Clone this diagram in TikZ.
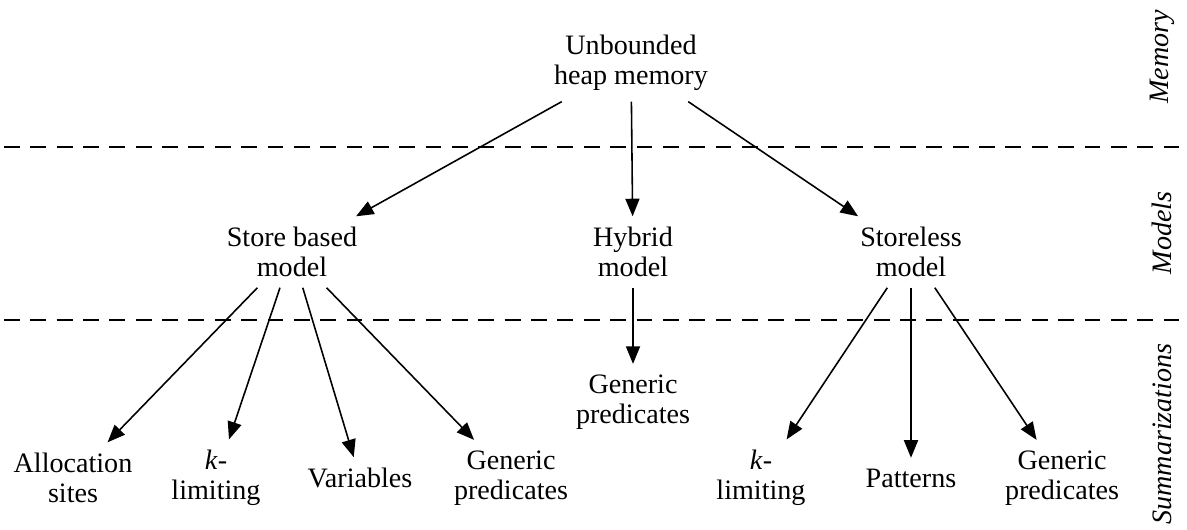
\documentclass[tikz,border=0pt]{standalone}
\usepackage{fontspec}
\setmainfont{Liberation Serif}
\usetikzlibrary{arrows.meta}

\tikzset{
  box/.style={align=center, inner sep=6pt, font=\fontsize{16}{17}\selectfont},
  side/.style={rotate=90, font=\fontsize{16}{17}\selectfont\itshape},
  link/.style={-{Triangle[length=10pt, width=8pt]}, line width=0.9pt},
  layer/.style={dash pattern=on 9pt off 6pt, line width=1.1pt}
}

\begin{document}
\begin{tikzpicture}[x=0.02cm, y=-0.02cm]%
  \useasboundingbox (0, 0) rectangle (1187, 529);
  % layers
  \draw[layer] (4, 147) -- (1180, 147);
  \draw[layer] (4, 320) -- (1180, 320);
  \node[side] (memory) at (1162, 57) {Memory};
  \node[side] (models) at (1162, 233) {Models};
  \node[side] (summ) at (1162, 434) {Summarizations};
  % memory and models
  \node[box] (heap) at (631, 63) {Unbounded\\heap memory};
  \node[box] (store) at (292, 252) {Store based\\model};
  \node[box] (hybrid) at (633, 252) {Hybrid\\model};
  \node[box] (storeless) at (911, 252) {Storeless\\model};
  \draw[link] (heap) -- (store);
  \draw[link] (heap) -- (hybrid);
  \draw[link] (heap) -- (storeless);
  % summarizations
  \node[box] (alloc) at (73, 478) {Allocation\\sites};
  \node[box] (klim) at (216, 478) {\textit{k}-\\limiting};
  \node[box] (vars) at (360, 478) {Variables};
  \node[box] (gen) at (511, 478) {Generic\\predicates};
  \node[box] (hybgen) at (633, 402) {Generic\\predicates};
  \node[box] (klimr) at (761, 478) {\textit{k}-\\limiting};
  \node[box] (pat) at (911, 478) {Patterns};
  \node[box] (genr) at (1062, 478) {Generic\\predicates};
  \foreach \t in {alloc, klim, vars, gen} {
    \draw[link] (store) -- (\t);
  }
  \draw[link] (hybrid) -- (hybgen);
  \foreach \t in {klimr, pat, genr} {
    \draw[link] (storeless) -- (\t);
  }
\end{tikzpicture}
\end{document}
